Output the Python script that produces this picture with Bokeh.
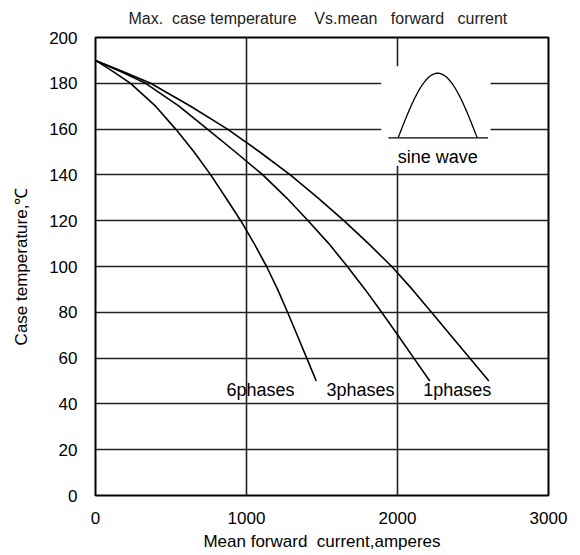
import numpy as np
from bokeh.plotting import figure
from bokeh.models import Range1d, FixedTicker
from bokeh.embed import file_html
from bokeh.resources import INLINE
from bokeh.core.properties import value

# ---- data ----
temps = [190, 185, 180, 170, 160, 150, 140, 130, 120, 110, 100, 90, 80, 70, 60, 50]   # case temperature, C
current_6ph = [0, 120, 232, 398, 531, 653, 763, 863, 962, 1051, 1133, 1206, 1272, 1336, 1399, 1462]
current_3ph = [0, 170, 332, 553, 741, 927, 1108, 1265, 1408, 1545, 1668, 1785, 1895, 2003, 2108, 2214]
current_1ph = [0, 185, 365, 630, 874, 1088, 1290, 1473, 1645, 1808, 1962, 2098, 2225, 2352, 2478, 2605]
series_names = ["6phases", "3phases", "1phases"]
label_x = [868, 1530, 2170]
label_y = 46
x_ticks = [0, 1000, 2000, 3000]
y_ticks = list(range(0, 201, 20))

FONT = "Liberation Sans"

p = figure(width=572, height=555, output_backend="svg", toolbar_location=None,
           x_range=Range1d(0, 3000), y_range=Range1d(0, 200),
           min_border_left=95, min_border_right=24, min_border_top=37,
           min_border_bottom=60)

p.title.text = "Max.\u00a0 case temperature\u00a0\u00a0\u00a0 Vs.mean\u00a0\u00a0 forward\u00a0\u00a0 current"
p.title.align = "left"
p.title.offset = 33
p.title.text_font = FONT
p.title.text_font_size = "16px"
p.title.text_font_style = "normal"
p.title.text_color = "#222222"
p.title.vertical_align = "top"
p.title.standoff = 18

p.outline_line_color = "black"
p.outline_line_width = 2
p.background_fill_color = "white"
p.border_fill_color = "white"

for ax in (p.xaxis[0], p.yaxis[0]):
    ax.axis_line_color = None
    ax.major_tick_line_color = None
    ax.minor_tick_line_color = None
    ax.major_tick_out = 0
    ax.major_tick_in = 0
    ax.minor_tick_out = 0
    ax.minor_tick_in = 0
    ax.major_label_text_font = FONT
    ax.major_label_text_font_size = "17px"
    ax.major_label_text_color = "black"
    ax.axis_label_text_font = FONT
    ax.axis_label_text_font_size = "17px"
    ax.axis_label_text_font_style = "normal"
    ax.axis_label_text_color = "black"

p.xaxis.ticker = FixedTicker(ticks=x_ticks)
p.yaxis.ticker = FixedTicker(ticks=y_ticks)
p.xaxis.axis_label = "Mean forward\u00a0 current,amperes"
p.yaxis.axis_label = "Case temperature,\u2103"
p.xaxis.major_label_standoff = 16
p.yaxis.major_label_standoff = 18
p.xaxis.axis_label_standoff = 5
p.yaxis.axis_label_standoff = 15

p.xgrid.ticker = FixedTicker(ticks=x_ticks)
p.ygrid.ticker = FixedTicker(ticks=y_ticks)
for g in (p.xgrid[0], p.ygrid[0]):
    g.grid_line_color = "#222222"
    g.grid_line_width = 1.6

for xs in (current_6ph, current_3ph, current_1ph):
    p.line(xs, temps, line_color="black", line_width=1.6)

p.text(x=label_x, y=[label_y] * 3, text=series_names,
       text_font=value(FONT), text_font_size="18px", text_color="black",
       text_baseline="middle", text_align="left")

# ---- inset: sine-wave icon on a white patch ----
p.quad(left=[1892], right=[2616], bottom=[144], top=[187.5],
       fill_color="white", line_color=None)
p.line([1940, 2600], [156.2, 156.2], line_color="black", line_width=1.3)
t = np.linspace(0, np.pi, 60)
p.line(2004 + (2528 - 2004) * t / np.pi, 156.2 + (184.4 - 156.2) * np.sin(t),
       line_color="black", line_width=1.3)
p.text(x=[2266], y=[148], text=["sine wave"], text_font=value(FONT),
       text_font_size="18px", text_color="black",
       text_baseline="middle", text_align="center")

open("out.html", "w").write(file_html(p, INLINE))
